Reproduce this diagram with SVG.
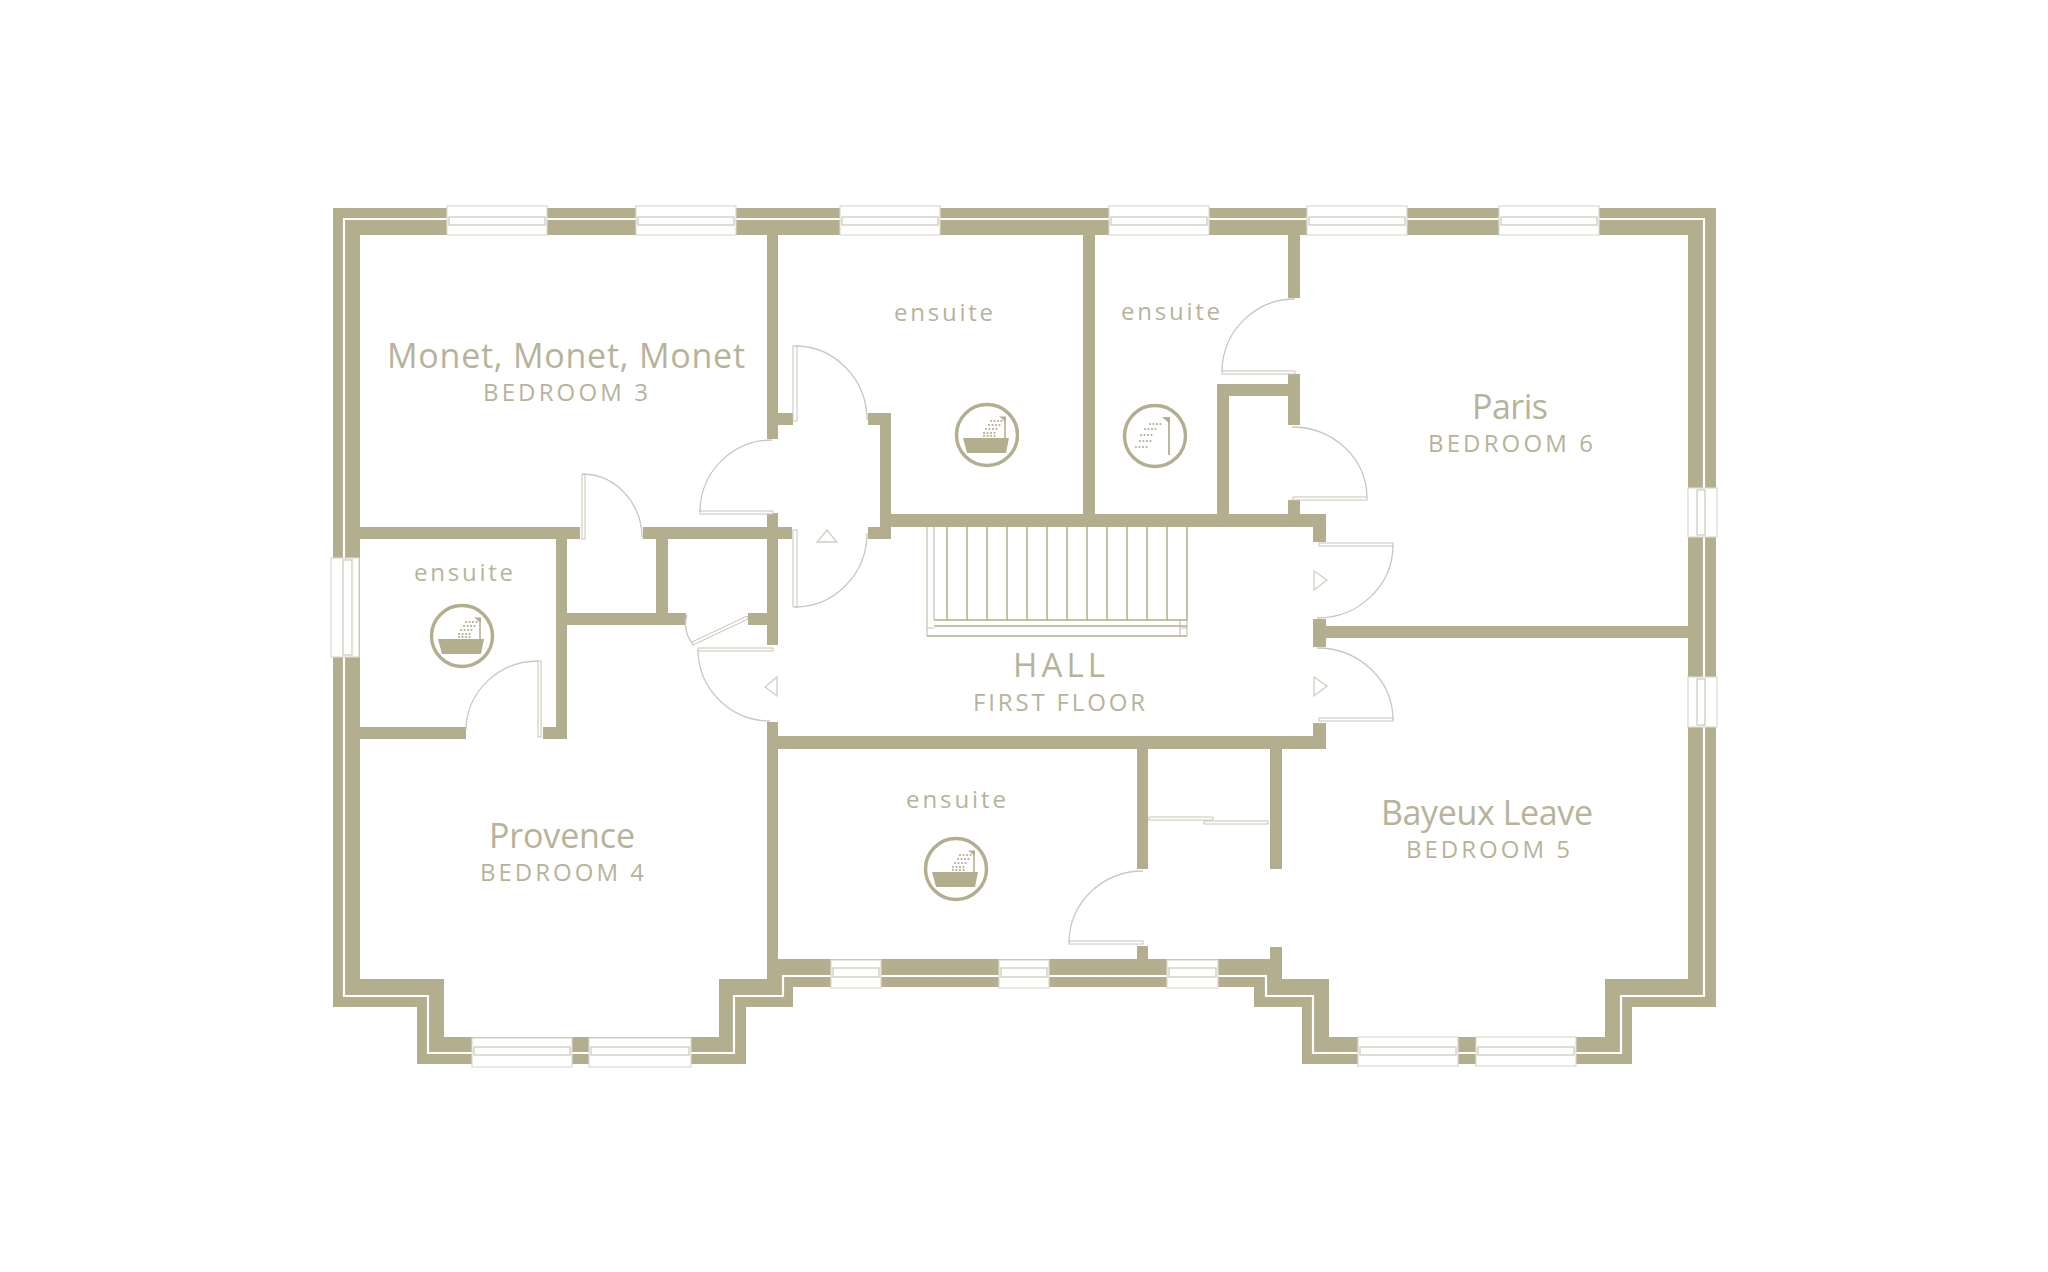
<svg xmlns="http://www.w3.org/2000/svg" xmlns:xlink="http://www.w3.org/1999/xlink" width="2048" height="1272" viewBox="0 0 2048 1272">
<style>
.w{fill:#b2ae8e;stroke:none}
.win{fill:#fff;stroke:#dad9cd;stroke-width:1.2}
.rail{fill:none;stroke:#cbc9b8;stroke-width:1.2}
.arc{fill:none;stroke:#c8c8c0;stroke-width:1.3}
.leaf{fill:#fff;stroke:#c6c5b6;stroke-width:1}
.tri{fill:#fff;stroke:#cfcec2;stroke-width:1.3}
.st{fill:none;stroke:#b2ae8e;stroke-width:1.5}
.st2{fill:none;stroke:#c6c4b0;stroke-width:1.2}
text{font-family:"Open Sans","Noto Sans","Liberation Sans",sans-serif;fill:#b7b39a;text-anchor:start}
.n{font-size:34px}
.s{font-size:24px}
.e{font-size:24px}
</style>
<defs>
<g id="dots">
<circle cx="0" cy="0" r="1.1"/><circle cx="3.5" cy="0" r="1.1"/><circle cx="7" cy="0" r="1.1"/><circle cx="10.5" cy="0" r="1.1"/>
</g>
<g id="ring"><circle r="30.5" fill="#fff" stroke="#b2ae8e" stroke-width="3.4"/></g>
<g id="bath">
<use xlink:href="#ring" href="#ring"/>
<path class="w" d="M-24 3H22L19 18H-20Z"/>
<path d="M18 3V-17" stroke="#b2ae8e" stroke-width="1.5" fill="none"/>
<path class="w" d="M12 -18.500H19V-13Z"/>
<g fill="#b2ae8e">
<use href="#dots" x="4" y="-14"/>
<use href="#dots" x="2" y="-10"/>
<use href="#dots" x="-1" y="-6"/>
<use href="#dots" x="-3" y="-2"/>
<use href="#dots" x="-3" y="1"/>
</g>
</g>
<g id="shower">
<use xlink:href="#ring" href="#ring"/>
<path d="M14 -17V19" stroke="#b2ae8e" stroke-width="1.8" fill="none"/>
<path class="w" d="M7 -19H15V-12Z"/>
<g fill="#b2ae8e">
<use href="#dots" x="-5" y="-12"/>
<use href="#dots" x="-10" y="-7"/>
<use href="#dots" x="-14" y="-1"/>
<use href="#dots" x="-15" y="5"/>
<use href="#dots" x="-19" y="11"/>
</g>
</g>
</defs>
<rect width="2048" height="1272" fill="#fff"/>

<g id="shell">
<path class="w" d="M333 208H1716V1007H1632V1064H1302V1007H1254V987H793V1007H746V1064H417V1007H333Z"/>
<path fill="#fff" d="M360 235H1688V979H1605V1037H1329V979H1282V959H767V979H719V1037H444V979H360Z"/>
<path fill="none" stroke="#fff" stroke-width="2.2" d="M344 996V219H1704V996H1621V1053H1313V996H1266V976H783V996H734V1053H428V996Z"/>
</g>

<g id="walls">
<rect class="w" x="767" y="235" width="11" height="204"/>
<rect class="w" x="778" y="413" width="15" height="12"/>
<rect class="w" x="767" y="513" width="11" height="132"/>
<rect class="w" x="360" y="527" width="220" height="12"/>
<rect class="w" x="643" y="527" width="149" height="12"/>
<rect class="w" x="556" y="539" width="11" height="200"/>
<rect class="w" x="543" y="727" width="24" height="12"/>
<rect class="w" x="360" y="727" width="106" height="12"/>
<rect class="w" x="567" y="613" width="119" height="12"/>
<rect class="w" x="656" y="539" width="12" height="74"/>
<rect class="w" x="748" y="613" width="19" height="12"/>
<rect class="w" x="767" y="722" width="11" height="257"/>
<rect class="w" x="778" y="736" width="548" height="13"/>
<rect class="w" x="1313" y="723" width="13" height="26"/>
<rect class="w" x="1313" y="619" width="13" height="28"/>
<rect class="w" x="1326" y="626" width="362" height="12"/>
<rect class="w" x="1313" y="514" width="13" height="28"/>
<rect class="w" x="880" y="514" width="446" height="13"/>
<rect class="w" x="880" y="413" width="11" height="126"/>
<rect class="w" x="868" y="413" width="23" height="12"/>
<rect class="w" x="868" y="527" width="23" height="12"/>
<rect class="w" x="1083" y="235" width="12" height="279"/>
<rect class="w" x="1288" y="235" width="12" height="63"/>
<rect class="w" x="1288" y="374" width="12" height="51"/>
<rect class="w" x="1288" y="500" width="12" height="14"/>
<rect class="w" x="1217" y="384" width="83" height="12"/>
<rect class="w" x="1217" y="384" width="12" height="130"/>
<rect class="w" x="1137" y="749" width="11" height="120"/>
<rect class="w" x="1137" y="946" width="11" height="13"/>
<rect class="w" x="1270" y="749" width="12" height="120"/>
<rect class="w" x="1270" y="947" width="12" height="32"/>
</g>

<g id="windows">
<rect class="win" x="447" y="206" width="100" height="29"/><rect class="rail" x="449" y="217" width="96" height="8"/>
<rect class="win" x="636" y="206" width="100" height="29"/><rect class="rail" x="638" y="217" width="96" height="8"/>
<rect class="win" x="840" y="206" width="100" height="29"/><rect class="rail" x="842" y="217" width="96" height="8"/>
<rect class="win" x="1109" y="206" width="100" height="29"/><rect class="rail" x="1111" y="217" width="96" height="8"/>
<rect class="win" x="1307" y="206" width="100" height="29"/><rect class="rail" x="1309" y="217" width="96" height="8"/>
<rect class="win" x="1499" y="206" width="100" height="29"/><rect class="rail" x="1501" y="217" width="96" height="8"/>
<rect class="win" x="331" y="558" width="28" height="99"/><rect class="rail" x="343" y="560" width="9" height="95"/>
<rect class="win" x="1688" y="488" width="29" height="49"/><rect class="rail" x="1697" y="490" width="8" height="45"/>
<rect class="win" x="1688" y="677" width="29" height="50"/><rect class="rail" x="1697" y="679" width="8" height="46"/>
<rect class="win" x="831" y="960" width="50" height="28"/><rect class="rail" x="833" y="968" width="46" height="9"/>
<rect class="win" x="999" y="960" width="50" height="28"/><rect class="rail" x="1001" y="968" width="46" height="9"/>
<rect class="win" x="1167" y="960" width="51" height="28"/><rect class="rail" x="1169" y="968" width="47" height="9"/>
<rect class="win" x="472" y="1038" width="100" height="29"/><rect class="rail" x="474" y="1047" width="96" height="8"/>
<rect class="win" x="589" y="1038" width="102" height="29"/><rect class="rail" x="591" y="1047" width="98" height="8"/>
<rect class="win" x="1358" y="1037" width="100" height="29"/><rect class="rail" x="1360" y="1047" width="96" height="8"/>
<rect class="win" x="1476" y="1037" width="100" height="29"/><rect class="rail" x="1478" y="1047" width="96" height="8"/>
</g>

<g id="doors">
<rect class="leaf" x="582" y="474" width="3" height="65"/><path class="arc" d="M583 474A60 64 0 0 1 642 538"/>
<rect class="leaf" x="700" y="511" width="73" height="3"/><path class="arc" d="M772 440A72 72 0 0 0 700 512"/>
<rect class="leaf" x="793" y="346" width="4" height="75"/><path class="arc" d="M795 346A72 74 0 0 1 867 420"/>
<rect class="leaf" x="793" y="530" width="4" height="77"/><path class="arc" d="M867 533A72 74 0 0 1 795 607"/>
<path class="leaf" d="M747 616L692 642L693 645L748 619Z"/><path class="arc" d="M687 615A30 30 0 0 0 693 644"/>
<rect class="leaf" x="698" y="648" width="75" height="3"/><path class="arc" d="M698 650A72 72 0 0 0 770 721"/>
<rect class="leaf" x="538" y="661" width="3" height="76"/><path class="arc" d="M538 661A72 70 0 0 0 466 730"/>
<rect class="leaf" x="1222" y="371" width="73" height="3"/><path class="arc" d="M1295 299A73 73 0 0 0 1222 372"/>
<rect class="leaf" x="1293" y="497" width="74" height="3"/><path class="arc" d="M1292 427A75 71 0 0 1 1367 498"/>
<rect class="leaf" x="1319" y="543" width="74" height="3"/><path class="arc" d="M1393 545A76 73 0 0 1 1317 618"/>
<rect class="leaf" x="1319" y="718" width="74" height="3"/><path class="arc" d="M1317 648A76 72 0 0 1 1393 720"/>
<rect class="leaf" x="1069" y="941" width="74" height="3"/><path class="arc" d="M1143 871A74 72 0 0 0 1069 943"/>
<rect class="leaf" x="1149" y="817" width="64" height="3"/>
<rect class="leaf" x="1204" y="821" width="64" height="3"/>
<path class="tri" d="M817 542H837L827 530Z"/>
<path class="tri" d="M765 687L777 677V696Z"/>
<path class="tri" d="M1314 571L1327 580L1314 590Z"/>
<path class="tri" d="M1314 677L1327 686L1314 696Z"/>
</g>

<g id="stairs">
<path class="st2" d="M927 527V636M934 527V620M927 628H934M1180 620V636M1180 628H1187M1187 620V636"/>
<path class="st" d="M934 620H1187M934 626H1187M927 636H1187M947 527V620M967 527V620M987 527V620M1007 527V620M1027 527V620M1047 527V620M1067 527V620M1087 527V620M1107 527V620M1127 527V620M1147 527V620M1167 527V620M1187 527V620"/>
</g>

<g id="icons">
<use href="#bath" x="462" y="636"/>
<use href="#bath" x="987" y="435"/>
<use href="#bath" x="956" y="869"/>
<use href="#shower" x="1155" y="436"/>
</g>

<g id="labels">
<text class="n" x="387" y="368" textLength="358">Monet, Monet, Monet</text>
<text class="s" x="483" y="401" textLength="165">BEDROOM 3</text>
<text class="n" x="489" y="848" textLength="146">Provence</text>
<text class="s" x="480" y="881" textLength="164">BEDROOM 4</text>
<text class="n" x="1472" y="419" textLength="76">Paris</text>
<text class="s" x="1428" y="452" textLength="165">BEDROOM 6</text>
<text class="n" x="1381" y="825" textLength="212">Bayeux Leave</text>
<text class="s" x="1406" y="858" textLength="164">BEDROOM 5</text>
<text font-size="33" x="1013" y="677" textLength="92">HALL</text>
<text class="s" x="973" y="711" textLength="172">FIRST FLOOR</text>
<text class="e" x="414" y="581" textLength="99">ensuite</text>
<text class="e" x="894" y="321" textLength="99">ensuite</text>
<text class="e" x="1121" y="320" textLength="99">ensuite</text>
<text class="e" x="906" y="808" textLength="100">ensuite</text>
</g>
</svg>
